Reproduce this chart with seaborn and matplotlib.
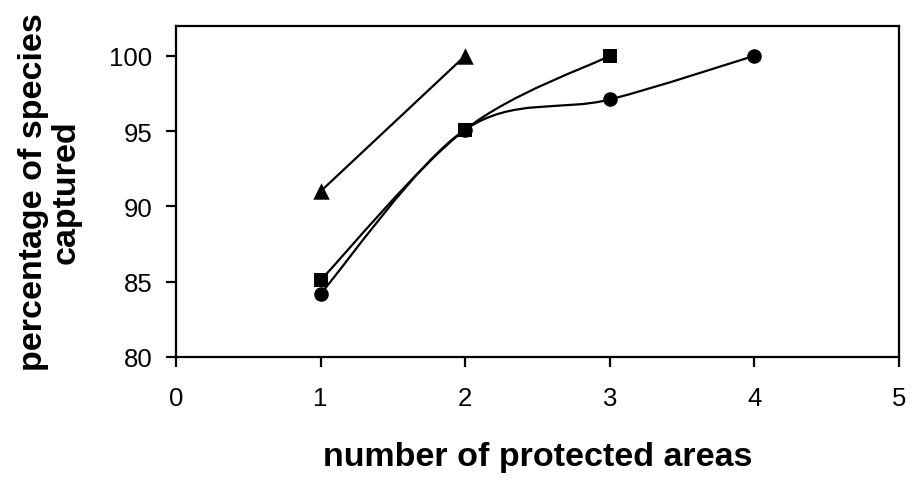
import matplotlib
matplotlib.use("Agg")
import matplotlib.pyplot as plt
import seaborn as sns
import pandas as pd
from matplotlib.path import Path
from matplotlib.patches import PathPatch

# values
areas_a = [1, 2, 3, 4]
pct_a = [84.2, 95.1, 97.1, 100]      # circles
areas_b = [1, 2, 3]
pct_b = [85.1, 95.1, 100]            # squares
areas_c = [1, 2]
pct_c = [91, 100]                    # triangles

sns.set_theme(style="white")
plt.rcParams['font.family'] = ['Liberation Sans', 'DejaVu Sans']
plt.rcParams['text.color'] = 'black'
plt.rcParams['axes.labelcolor'] = 'black'

fig = plt.figure(figsize=(9.13, 4.85), dpi=100)
ax = fig.add_axes([0.1928, 0.262, 0.7919, 0.683])


def smooth_path(xs, ys):
    # excel-style smoothed line: cubic bezier with catmull-rom control points
    pts = list(zip(xs, ys))
    verts = [pts[0]]
    codes = [Path.MOVETO]
    n = len(pts)
    for i in range(n - 1):
        p0 = pts[i - 1] if i > 0 else pts[i]
        p1 = pts[i]
        p2 = pts[i + 1]
        p3 = pts[i + 2] if i + 2 < n else pts[i + 1]
        c1 = (p1[0] + (p2[0] - p0[0]) / 6, p1[1] + (p2[1] - p0[1]) / 6)
        c2 = (p2[0] - (p3[0] - p1[0]) / 6, p2[1] - (p3[1] - p1[1]) / 6)
        verts += [c1, c2, p2]
        codes += [Path.CURVE4] * 3
    return Path(verts, codes)


series = [(areas_a, pct_a, "o", 110), (areas_b, pct_b, "s", 110), (areas_c, pct_c, "^", 140)]
for xs, ys, mk, sz in series:
    ax.add_patch(PathPatch(smooth_path(xs, ys), facecolor="none", edgecolor="black",
                           lw=1.6, zorder=2))
    df = pd.DataFrame({"x": xs, "y": ys})
    sns.scatterplot(data=df, x="x", y="y", marker=mk, s=sz, color="black",
                    edgecolor="black", linewidth=0, ax=ax, zorder=3)

ax.set_xlim(0, 5)
ax.set_ylim(80, 102)
ax.set_xticks([0, 1, 2, 3, 4, 5])
ax.set_yticks([80, 85, 90, 95, 100])
for s in ax.spines.values():
    s.set_color("black")
    s.set_linewidth(1.6)
ax.tick_params(axis="both", direction="out", length=7, width=1.6, color="black",
               labelsize=18.5, labelcolor="black", bottom=True, left=True)
ax.tick_params(axis="x", pad=14)
ax.tick_params(axis="y", pad=10)

ax.set_xlabel("number of protected areas", fontsize=24.5, fontweight="bold", labelpad=22)
ax.set_ylabel("percentage of species\ncaptured", fontsize=24.5, fontweight="bold",
              labelpad=20, linespacing=1.05)

fig.savefig("out.png", dpi=100, facecolor="white")
